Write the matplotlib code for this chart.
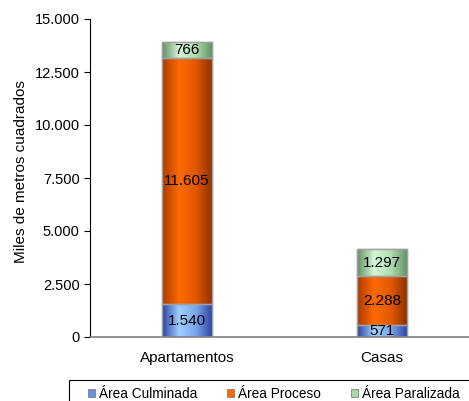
import numpy as np
import matplotlib
matplotlib.use("Agg")
import matplotlib.pyplot as plt
from matplotlib.ticker import FuncFormatter
from matplotlib.colors import LinearSegmentedColormap
from matplotlib.patches import Rectangle

plt.rcParams['font.family'] = ['Liberation Sans', 'DejaVu Sans']

categories = ["Apartamentos", "Casas"]
series_names = ["Área Culminada", "Área Proceso", "Área Paralizada"]
culminada = [1540, 571]
proceso = [11605, 2288]
paralizada = [766, 1297]
yticks = [0, 2500, 5000, 7500, 10000, 12500, 15000]

def fmt(v):
    return f"{int(round(v)):,}".replace(",", ".")

W, H = 469, 401
fig = plt.figure(figsize=(W / 100, H / 100), dpi=100)
ax = fig.add_axes([89.5 / W, 64 / H, 390 / W, 318 / H])

x = np.arange(len(categories))
width = 0.26
series = [culminada, proceso, paralizada]
base_colors = ["#6a8fe0", "#ff6600", "#a8d8a8"]
grads = [
    ["#2a3fa0", "#9fcfff", "#7aa6ea", "#2a3fa0"],
    ["#a83a00", "#ff6a00", "#e05800", "#8a3000"],
    ["#5f8f5f", "#d8f5d8", "#b0dcb0", "#5f8f5f"],
]

bottom = np.zeros(len(categories))
for vals, col, g, name in zip(series, base_colors, grads, series_names):
    bars = ax.bar(x, vals, width, bottom=bottom, color=col, edgecolor="#a0a0a0",
                  linewidth=1.0, label=name, zorder=2)
    cmap = LinearSegmentedColormap.from_list("g", g)
    grad = np.linspace(0, 1, 256).reshape(1, -1)
    for b in bars:
        bx, by = b.get_x(), b.get_y()
        bw, bh = b.get_width(), b.get_height()
        im = ax.imshow(grad, cmap=cmap, aspect="auto",
                       extent=[bx, bx + bw, by, by + bh], zorder=2.1)
        im.set_clip_path(b)
        ax.bar(bx + bw / 2, bh, bw, bottom=by, fill=False,
               edgecolor="#a0a0a0", linewidth=1.0, zorder=2.2)
    for xi, v, bt in zip(x, vals, bottom):
        ax.text(xi, bt + v / 2, fmt(v), ha="center", va="center",
                fontsize=11, color="black", zorder=3)
    bottom = bottom + np.array(vals)

ax.set_xlim(-0.5, 1.5)
ax.set_ylim(0, 15000)
ax.set_yticks(yticks)
ax.yaxis.set_major_formatter(FuncFormatter(lambda v, p: fmt(v)))
ax.set_xticks(x)
ax.set_xticklabels(categories, fontsize=11)
ax.tick_params(axis="x", length=0, pad=10)
ax.tick_params(axis="y", length=4, width=0.8, labelsize=10.5, pad=3)
for s in ["top", "right"]:
    ax.spines[s].set_visible(False)
ax.spines["left"].set_color("black")
ax.spines["left"].set_linewidth(0.8)
ax.spines["bottom"].set_color("#808080")
ax.spines["bottom"].set_linewidth(1.2)
ax.set_ylabel("Miles de metros cuadrados", fontsize=11)
ax.yaxis.set_label_coords((28 - 89.5) / 390, (337 - 172) / 318)

handles = [Rectangle((0, 0), 1, 1, facecolor=c, edgecolor="#808080", linewidth=0.6)
           for c in base_colors]
leg = fig.legend(handles, series_names, loc="upper left",
                 bbox_to_anchor=(88 / W, (H - 387) / H), ncol=3, fontsize=9.8,
                 frameon=False, handlelength=0.5, handleheight=0.5,
                 handletextpad=0.3, columnspacing=2.2, borderpad=0,
                 borderaxespad=0)
fig.patches.append(Rectangle((69 / W, -0.05), (W + 10 - 69) / W, 0.05 + (H - 380) / H,
                             transform=fig.transFigure, fill=False,
                             edgecolor="black", linewidth=0.8))

fig.savefig("out.png", dpi=100)
